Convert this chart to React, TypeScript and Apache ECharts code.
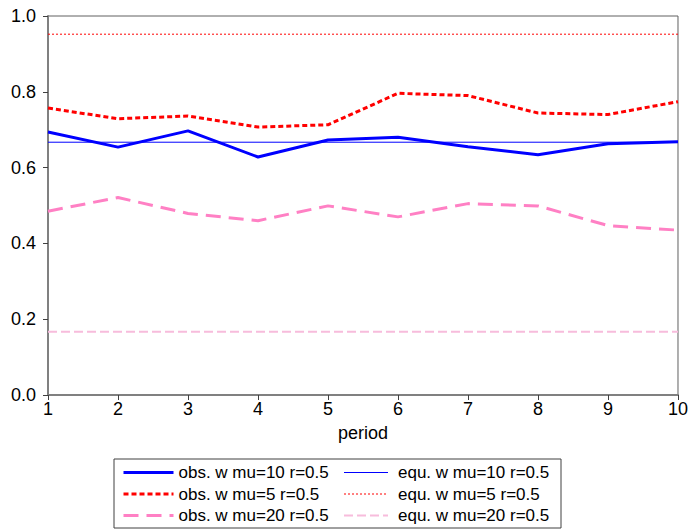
import React, { useEffect, useRef } from "react";
import * as echarts from "echarts";

const periods = [1, 2, 3, 4, 5, 6, 7, 8, 9, 10];
const obsMu10 = [0.694, 0.654, 0.697, 0.628, 0.673, 0.68, 0.655, 0.634, 0.663, 0.668];
const obsMu5 = [0.757, 0.729, 0.736, 0.707, 0.713, 0.796, 0.79, 0.744, 0.74, 0.774];
const obsMu20 = [0.485, 0.521, 0.479, 0.46, 0.499, 0.47, 0.505, 0.499, 0.447, 0.435];
const equMu10 = 0.667;
const equMu5 = 0.952;
const equMu20 = 0.167;
const yTicks = [0, 0.2, 0.4, 0.6, 0.8, 1.0];

const FONT = "Liberation Sans, Arial, sans-serif";

export default function App() {
  const ref = useRef<HTMLDivElement>(null);
  useEffect(() => {
    if (!ref.current) return;
    const chart = echarts.init(ref.current, undefined, { renderer: "svg" });
    const pts = (v: number[]) => periods.map((p, i) => [p, v[i]]);
    const flat = (v: number) => [
      [periods[0], v],
      [periods[periods.length - 1], v],
    ];
    const names = [
      "obs. w mu=10 r=0.5",
      "obs. w mu=5 r=0.5",
      "obs. w mu=20 r=0.5",
      "equ. w mu=10 r=0.5",
      "equ. w mu=5 r=0.5",
      "equ. w mu=20 r=0.5",
    ];
    const legendCommon = {
      orient: "vertical" as const,
      top: 464,
      height: 90,
      itemHeight: 14,
      itemGap: 4.5,
      itemStyle: { opacity: 0 },
      lineStyle: { width: "inherit" },
      padding: 0,
    };
    chart.setOption({
      animation: false,
      grid: {
        left: 48,
        top: 16,
        right: 13,
        bottom: 134,
        show: true,
        borderColor: "#606060",
        borderWidth: 1,
      },
      xAxis: {
        type: "value",
        min: 1,
        max: 10,
        interval: 1,
        name: "period",
        nameLocation: "middle",
        nameGap: 29,
        nameTextStyle: { fontFamily: FONT, fontSize: 18, color: "#000" },
        axisLine: { lineStyle: { color: "#808080", width: 2 } },
        axisTick: { length: 5, lineStyle: { color: "#404040", width: 1 } },
        axisLabel: { fontFamily: FONT, fontSize: 18, color: "#000", margin: 5 },
        splitLine: { show: false },
      },
      yAxis: {
        type: "value",
        min: yTicks[0],
        max: yTicks[yTicks.length - 1],
        interval: 0.2,
        axisLine: { show: true, lineStyle: { color: "#808080", width: 2 } },
        axisTick: { show: true, length: 5, lineStyle: { color: "#404040", width: 1 } },
        axisLabel: {
          fontFamily: FONT,
          fontSize: 18,
          color: "#000",
          margin: 12,
          formatter: (v: number) => v.toFixed(1),
        },
        splitLine: { show: false },
      },
      legend: [
        {
          ...legendCommon,
          left: 122,
          width: 215,
          itemWidth: 50,
          textStyle: { fontFamily: FONT, fontSize: 17, color: "#000" },
          data: names.slice(0, 3),
        },
        {
          ...legendCommon,
          left: 343,
          width: 215,
          itemWidth: 44,
          textStyle: { fontFamily: FONT, fontSize: 17, color: "#000", padding: [0, 0, 0, 5] },
          data: names.slice(3),
        },
      ],
      graphic: [
        {
          type: "rect",
          shape: { x: 114, y: 459, width: 447, height: 69 },
          style: { fill: "none", stroke: "#404040", lineWidth: 1 },
        },
      ],
      series: [
        {
          name: names[0],
          type: "line",
          data: pts(obsMu10),
          symbol: "none",
          lineStyle: { color: "#0000ff", width: 3 },
          itemStyle: { color: "#0000ff" },
          z: 5,
        },
        {
          name: names[1],
          type: "line",
          data: pts(obsMu5),
          symbol: "none",
          lineStyle: { color: "#ff0000", width: 3, type: [5, 3] },
          itemStyle: { color: "#ff0000" },
          z: 5,
        },
        {
          name: names[2],
          type: "line",
          data: pts(obsMu20),
          symbol: "none",
          lineStyle: { color: "#ff80c4", width: 3, type: [15, 8] },
          itemStyle: { color: "#ff80c4" },
          z: 5,
        },
        {
          name: names[3],
          type: "line",
          data: flat(equMu10),
          symbol: "none",
          lineStyle: { color: "#0000ff", width: 1 },
          itemStyle: { color: "#0000ff" },
        },
        {
          name: names[4],
          type: "line",
          data: flat(equMu5),
          symbol: "none",
          lineStyle: { color: "#ff0000", width: 1, type: [2, 2] },
          itemStyle: { color: "#ff0000" },
        },
        {
          name: names[5],
          type: "line",
          data: flat(equMu20),
          symbol: "none",
          lineStyle: { color: "#f7bcdc", width: 2, type: [9, 4] },
          itemStyle: { color: "#f7bcdc" },
        },
      ],
    });
    return () => chart.dispose();
  }, []);
  return (
    <div
      ref={ref}
      style={{ position: "fixed", left: 0, top: 0, width: 691, height: 529, background: "#fff" }}
    />
  );
}
